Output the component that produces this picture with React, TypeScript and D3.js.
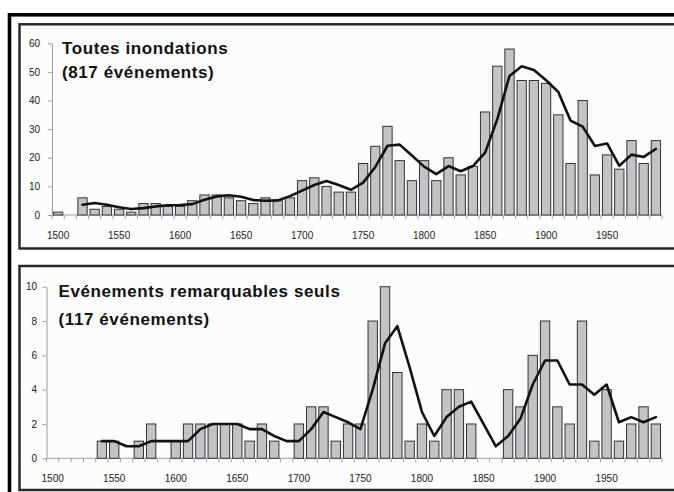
import React, { useEffect, useRef } from 'react';
import * as d3 from 'd3';

// decades shown on the category axis
const decades = [
  1500, 1510, 1520, 1530, 1540, 1550, 1560, 1570, 1580, 1590,
  1600, 1610, 1620, 1630, 1640, 1650, 1660, 1670, 1680, 1690,
  1700, 1710, 1720, 1730, 1740, 1750, 1760, 1770, 1780, 1790,
  1800, 1810, 1820, 1830, 1840, 1850, 1860, 1870, 1880, 1890,
  1900, 1910, 1920, 1930, 1940, 1950, 1960, 1970, 1980, 1990,
];

const xTickLabels = ['1500', '1550', '1600', '1650', '1700', '1750', '1800', '1850', '1900', '1950'];

// Toutes inondations: events per decade
const allFloods = [
  1, 0, 6, 2, 3, 2, 1, 4, 4, 3,
  3, 5, 7, 7, 6, 5, 4, 6, 5, 6,
  12, 13, 10, 8, 8, 18, 24, 31, 19, 12,
  19, 12, 20, 14, 17, 36, 52, 58, 47, 47,
  46, 35, 18, 40, 14, 21, 16, 26, 18, 26,
];

// moving average curve, top panel
const allFloodsAvg = [
  null, null, 3.6, 4.2, 3.6, 2.7, 2.1, 2.4, 3.0, 3.4,
  3.5, 3.8, 5.3, 6.5, 6.9, 6.4, 5.2, 5.0, 5.1, 6.6,
  8.5, 10.5, 11.9, 10.5, 8.8, 11.3, 16.8, 24.2, 24.6, 20.8,
  16.9, 14.3, 17.1, 15.3, 17.1, 21.8, 33.5, 48.6, 52.0, 50.7,
  47.1, 43.0, 33.0, 30.9, 24.1, 25.0, 17.2, 21.1, 20.3, 23.1,
];

// Evénements remarquables seuls: events per decade
const remarkable = [
  0, 0, 0, 0, 1, 1, 0, 1, 2, 0,
  1, 2, 2, 2, 2, 2, 1, 2, 1, 0,
  2, 3, 3, 1, 2, 2, 8, 10, 5, 1,
  2, 1, 4, 4, 2, 0, 0, 4, 3, 6,
  8, 3, 2, 8, 1, 4, 1, 2, 3, 2,
];

// moving average curve, bottom panel
const remarkableAvg = [
  null, null, null, null, 1.0, 1.0, 0.7, 0.7, 1.0, 1.0,
  1.0, 1.0, 1.7, 2.0, 2.0, 2.0, 1.7, 1.7, 1.3, 1.0,
  1.0, 1.7, 2.7, 2.4, 2.1, 1.7, 4.0, 6.7, 7.7, 5.3,
  2.7, 1.3, 2.4, 3.0, 3.3, 2.0, 0.7, 1.3, 2.3, 4.3,
  5.7, 5.7, 4.3, 4.3, 3.7, 4.3, 2.1, 2.4, 2.1, 2.4,
];

const topTicks = [0, 10, 20, 30, 40, 50, 60];
const bottomTicks = [0, 2, 4, 6, 8, 10];

const FONT = '"Liberation Sans", Arial, Helvetica, sans-serif';

const App = () => {
  const svgRef = useRef(null);

  useEffect(() => {
    const svg = d3.select(svgRef.current);
    svg.selectAll('*').remove();

    // outer frame
    svg.append('rect')
      .attr('x', 9.5).attr('y', 14.8)
      .attr('width', 720).attr('height', 600)
      .attr('fill', '#fff')
      .attr('stroke', '#000')
      .attr('stroke-width', 3.6);

    const drawPanel = (opts) => {
      const { box, x0, x1, yZero, yMax, max, ticks, bars, avg, labelPad, title, titleX, titleY } = opts;

      svg.append('rect')
        .attr('x', box[0]).attr('y', box[1])
        .attr('width', box[2]).attr('height', box[3])
        .attr('fill', '#fcfcfc')
        .attr('stroke', '#2a2a2a')
        .attr('stroke-width', 2.5);

      const x = d3.scaleBand()
        .domain(decades)
        .range([x0, x1])
        .paddingInner(0.24)
        .paddingOuter(0.12);

      const y = d3.scaleLinear().domain([0, max]).range([yZero, yMax]);

      const g = svg.append('g');

      // y axis
      const yAxis = g.append('g')
        .attr('transform', `translate(${x0},0)`)
        .call(d3.axisLeft(y).tickValues(ticks).tickSize(4).tickSizeOuter(0).tickPadding(labelPad));
      yAxis.select('.domain').attr('stroke', '#a0a0a0');
      yAxis.selectAll('.tick line').attr('stroke', '#a0a0a0');
      yAxis.selectAll('.tick text')
        .attr('fill', '#222')
        .style('font-family', FONT)
        .style('font-size', '10px');

      // x axis line with ticks on category boundaries
      g.append('line')
        .attr('x1', x0).attr('x2', x1)
        .attr('y1', yZero).attr('y2', yZero)
        .attr('stroke', '#a0a0a0');

      const step = x.step();
      g.selectAll('.xtick')
        .data(decades.concat([2000]))
        .enter()
        .append('line')
        .attr('class', 'xtick')
        .attr('x1', (d, i) => x0 + i * step)
        .attr('x2', (d, i) => x0 + i * step)
        .attr('y1', yZero)
        .attr('y2', yZero + 4)
        .attr('stroke', '#a0a0a0');

      g.selectAll('.xlabel')
        .data(xTickLabels)
        .enter()
        .append('text')
        .attr('class', 'xlabel')
        .attr('x', d => x(+d) + x.bandwidth() / 2)
        .attr('y', yZero + 24)
        .attr('text-anchor', 'middle')
        .attr('fill', '#222')
        .style('font-family', FONT)
        .style('font-size', '10px')
        .text(d => d);

      // bars
      g.selectAll('.bar')
        .data(decades.map((d, i) => ({ decade: d, value: bars[i] })).filter(d => d.value > 0))
        .enter()
        .append('rect')
        .attr('class', 'bar')
        .attr('x', d => x(d.decade))
        .attr('y', d => y(d.value))
        .attr('width', x.bandwidth())
        .attr('height', d => yZero - y(d.value))
        .attr('fill', '#c2c3c7')
        .attr('stroke', '#333')
        .attr('stroke-width', 1);

      // moving average
      const line = d3.line()
        .defined(d => d.value != null)
        .x(d => x(d.decade) + x.bandwidth() / 2)
        .y(d => y(d.value));

      g.append('path')
        .datum(decades.map((d, i) => ({ decade: d, value: avg[i] })))
        .attr('fill', 'none')
        .attr('stroke', '#111')
        .attr('stroke-width', 2.6)
        .attr('stroke-linejoin', 'round')
        .attr('stroke-linecap', 'round')
        .attr('d', line);

      // title
      title.forEach((t, i) => {
        g.append('text')
          .attr('x', titleX)
          .attr('y', titleY[i])
          .attr('fill', '#111')
          .style('font-family', FONT)
          .style('font-size', '17px')
          .style('font-weight', 'bold')
          .style('letter-spacing', '0.6px')
          .text(t);
      });
    };

    drawPanel({
      box: [19.5, 24.3, 720, 224.2],
      x0: 52, x1: 662, yZero: 215, yMax: 43.3, max: 60,
      ticks: topTicks, bars: allFloods, avg: allFloodsAvg, labelPad: 8,
      title: ['Toutes inondations', '(817 événements)'],
      titleX: 62, titleY: [54, 77.5],
    });

    drawPanel({
      box: [19.5, 266, 720, 224],
      x0: 46.5, x1: 662, yZero: 458.3, yMax: 286.7, max: 10,
      ticks: bottomTicks, bars: remarkable, avg: remarkableAvg, labelPad: 5.5,
      title: ['Evénements remarquables seuls', '(117 événements)'],
      titleX: 58.5, titleY: [297, 325],
    });
  }, []);

  return (
    <svg
      ref={svgRef}
      width={674}
      height={492}
      style={{ position: 'absolute', left: 0, top: 0, background: '#fff' }}
    />
  );
};

export default App;
